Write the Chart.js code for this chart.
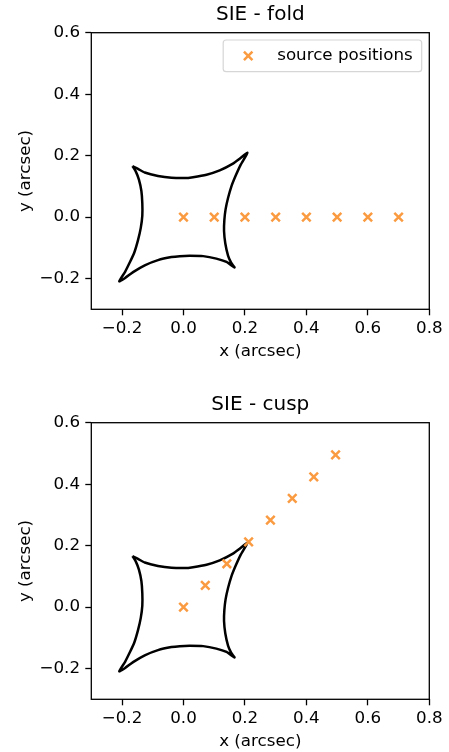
<!DOCTYPE html>
<html>
<head>
<meta charset="utf-8">
<script src="https://cdn.jsdelivr.net/npm/chart.js@4"></script>
<style>
  body { margin: 0; background: #fff; }
  canvas { position: absolute; left: 0; }
  #foldChart { top: 0; }
  #cuspChart { top: 390px; }
</style>
</head>
<body>
<canvas id="foldChart" width="449" height="362"></canvas>
<canvas id="cuspChart" width="449" height="362"></canvas>
<script>
// caustic curve (TL cusp -> top -> TR -> right -> BR -> bottom -> BL -> left -> TL)
const causticX = [-0.166, -0.148, -0.126, -0.083, -0.039, 0.004, 0.031, 0.075, 0.118, 0.161, 0.183, 0.208,
                  0.186, 0.170, 0.156, 0.145, 0.137, 0.133, 0.132, 0.136, 0.145, 0.155, 0.166,
                  0.140, 0.107, 0.064, 0.020, -0.012, -0.039, -0.083, -0.126, -0.164, -0.191, -0.209,
                  -0.190, -0.175, -0.160, -0.148, -0.139, -0.134, -0.134, -0.137, -0.145, -0.155, -0.166];
const causticY = [0.166, 0.157, 0.145, 0.134, 0.128, 0.127, 0.130, 0.138, 0.152, 0.174, 0.190, 0.209,
                  0.170, 0.135, 0.100, 0.062, 0.025, -0.010, -0.045, -0.085, -0.125, -0.148, -0.164,
                  -0.146, -0.135, -0.127, -0.126, -0.127, -0.130, -0.140, -0.157, -0.179, -0.199, -0.209,
                  -0.178, -0.148, -0.115, -0.075, -0.035, 0.005, 0.045, 0.085, 0.122, 0.148, 0.166];

const foldX = [0, 0.1, 0.2, 0.3, 0.4, 0.5, 0.6, 0.7];
const foldY = [0, 0, 0, 0, 0, 0, 0, 0];
const cuspX = [0, 0.071, 0.141, 0.212, 0.283, 0.354, 0.424, 0.495];
const cuspY = [0, 0.071, 0.141, 0.212, 0.283, 0.354, 0.424, 0.495];

const xTicks = [-0.2, 0, 0.2, 0.4, 0.6, 0.8];
const yTicks = [-0.2, 0, 0.2, 0.4, 0.6];

const ORANGE = 'rgb(250, 155, 65)';
const FONT = 'DejaVu Sans';

Chart.defaults.font.family = FONT;
Chart.defaults.color = '#000';

function zip(xs, ys) {
    return xs.map((x, i) => ({ x: x, y: ys[i] }));
}

function fmt(v) {
    return Number(v).toFixed(1).replace('-', '\u2212');
}

// full box round the axes + title centred over the axes (like matplotlib)
const frame = {
    id: 'frame',
    afterDraw(chart, args, opts) {
        const a = chart.chartArea, ctx = chart.ctx;
        ctx.save();
        ctx.strokeStyle = '#000';
        ctx.lineWidth = 1.3;
        ctx.strokeRect(a.left, a.top, a.right - a.left, a.bottom - a.top);
        ctx.font = '20px "' + FONT + '"';
        ctx.fillStyle = '#000';
        ctx.textAlign = 'center';
        ctx.textBaseline = 'middle';
        ctx.fillText(opts.title, (a.left + a.right) / 2, a.top - 17.5);
        ctx.restore();
    }
};

// matplotlib style legend inside the axes, upper right
const innerLegend = {
    id: 'innerLegend',
    afterDraw(chart, args, opts) {
        if (!opts.display) return;
        const a = chart.chartArea, ctx = chart.ctx;
        const label = chart.data.datasets[0].label;
        ctx.save();
        ctx.font = '16.7px "' + FONT + '"';
        const tw = ctx.measureText(label).width;
        const h = 31.7;
        const right = a.right - 7.6, top = a.top + 7.3;
        const left = right - (54 + tw + 9);
        ctx.beginPath();
        ctx.roundRect(left, top, right - left, h, 3);
        ctx.fillStyle = 'rgba(255,255,255,0.8)';
        ctx.fill();
        ctx.strokeStyle = '#d6d6d6';
        ctx.lineWidth = 1.2;
        ctx.stroke();
        // marker
        const mx = left + 25, my = top + h / 2, r = 6 * Math.SQRT1_2;
        ctx.beginPath();
        ctx.moveTo(mx - r, my - r); ctx.lineTo(mx + r, my + r);
        ctx.moveTo(mx - r, my + r); ctx.lineTo(mx + r, my - r);
        ctx.strokeStyle = ORANGE;
        ctx.lineWidth = 2.5;
        ctx.stroke();
        ctx.fillStyle = '#000';
        ctx.textBaseline = 'middle';
        ctx.textAlign = 'left';
        ctx.fillText(label, left + 54, my);
        ctx.restore();
    }
};

function makeChart(id, title, srcX, srcY, showLegend) {
    return new Chart(document.getElementById(id), {
        type: 'scatter',
        data: {
            datasets: [{
                label: 'source positions',
                data: zip(srcX, srcY),
                pointStyle: 'crossRot',
                pointRadius: 6,
                pointBorderWidth: 2.5,
                pointBorderColor: ORANGE,
                pointBackgroundColor: ORANGE,
                showLine: false
            }, {
                label: 'caustic',
                data: zip(causticX, causticY),
                showLine: true,
                borderColor: '#000',
                borderWidth: 2.5,
                pointRadius: 0,
                tension: 0.2,
                fill: false
            }]
        },
        options: {
            responsive: false,
            animation: false,
            events: [],
            layout: { padding: { left: 0, right: 19.7, top: 32.7, bottom: 0 } },
            plugins: {
                legend: { display: false },
                tooltip: { enabled: false },
                title: { display: false },
                frame: { title: title },
                innerLegend: { display: showLegend }
            },
            scales: {
                x: {
                    type: 'linear',
                    min: -0.3,
                    max: 0.8,
                    afterBuildTicks: s => { s.ticks = xTicks.map(v => ({ value: v })); },
                    afterFit: s => { s.height = 52.7; },
                    ticks: { font: { size: 16.7 }, padding: 3, maxRotation: 0, callback: v => fmt(v) },
                    grid: { drawOnChartArea: false, drawTicks: true, tickLength: 6, tickWidth: 1.3, tickColor: '#000' },
                    border: { display: false },
                    title: { display: true, text: 'x (arcsec)', font: { size: 16.7 }, padding: { top: 0, bottom: 0 } }
                },
                y: {
                    type: 'linear',
                    min: -0.3,
                    max: 0.6,
                    afterBuildTicks: s => { s.ticks = yTicks.map(v => ({ value: v })); },
                    afterFit: s => { s.width = 91.3; },
                    ticks: { font: { size: 16.7 }, padding: 5.3, callback: v => fmt(v) },
                    grid: { drawOnChartArea: false, drawTicks: true, tickLength: 6, tickWidth: 1.3, tickColor: '#000' },
                    border: { display: false },
                    title: { display: true, text: 'y (arcsec)', font: { size: 16.7 }, padding: { top: 16, bottom: 0 } }
                }
            }
        },
        plugins: [frame, innerLegend]
    });
}

const foldChart = makeChart('foldChart', 'SIE - fold', foldX, foldY, true);
const cuspChart = makeChart('cuspChart', 'SIE - cusp', cuspX, cuspY, false);
</script>
</body>
</html>
